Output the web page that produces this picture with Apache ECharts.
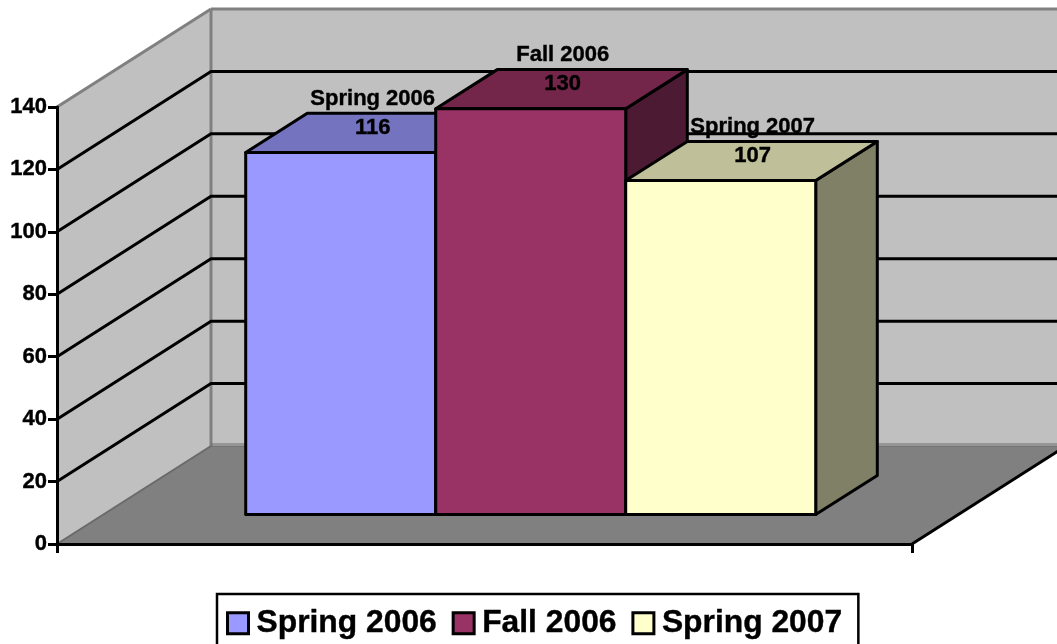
<!DOCTYPE html>
<html>
<head>
<meta charset="utf-8">
<style>html,body{margin:0;padding:0;background:#fff}#c{width:1057px;height:644px}</style>
<script src="https://cdn.jsdelivr.net/npm/echarts@6/dist/echarts.min.js"></script>
</head>
<body>
<div id="c"></div>
<script>
var categories = [''];
var seriesNames = ['Spring 2006', 'Fall 2006', 'Spring 2007'];
var seriesValues = [116, 130, 107];
var frontColors = ['#9999FF', '#993366', '#FFFFCC'];
var topColors = ['#7373BF', '#732649', '#BFBF99'];
var sideColors = ['#4D4D80', '#4D1A33', '#808066'];
var gridValues = [20, 40, 60, 80, 100, 120];

var AXIS_MAX = 140;
var DEPTH = [154, -98];
var FONT = 'Liberation Sans';
var HEAVY = 0.4;

function shift(p, t) { return [p[0] + DEPTH[0] * t, p[1] + DEPTH[1] * t]; }

function renderWalls(params, api) {
  var c = api.coord([0, 0]);
  var w = api.size([1, 0])[0];
  var l = c[0] - w / 2, r = c[0] + w / 2;
  var y0 = c[1], y1 = api.coord([0, AXIS_MAX])[1];
  var bl = [l, y0], br = [r, y0], tl = [l, y1], tr = [r, y1];
  var gray = { stroke: '#808080', lineWidth: 3, fill: null };
  function poly(pts, style) { return { type: 'polygon', shape: { points: pts }, style: style }; }
  function line(a, b, style) { return { type: 'line', shape: { x1: a[0], y1: a[1], x2: b[0], y2: b[1] }, style: style }; }
  return { type: 'group', children: [
    poly([shift(bl, 1), shift(br, 1), shift(tr, 1), shift(tl, 1)], { fill: '#C0C0C0' }),
    poly([bl, shift(bl, 1), shift(tl, 1), tl], { fill: '#C0C0C0' }),
    poly([bl, br, shift(br, 1), shift(bl, 1)], { fill: '#808080' }),
    line(tl, shift(tl, 1), gray),
    line(shift(tl, 1), shift(tr, 1), gray),
    line(shift(tl, 1), shift(bl, 1), gray),
    line(bl, shift(bl, 1), { stroke: '#6a6a6a', lineWidth: 2 }),
    line([shift(bl, 1)[0], shift(bl, 1)[1] - 2], [shift(br, 1)[0], shift(br, 1)[1] - 2], { stroke: '#6a6a6a', lineWidth: 1.2 }),
    line(shift(bl, 1), shift(br, 1), { stroke: '#6a6a6a', lineWidth: 1.2 }),
    line(br, shift(br, 1), { stroke: '#000', lineWidth: 3 })
  ] };
}

function renderGrid(params, api) {
  var c = api.coord([0, api.value(1)]);
  var w = api.size([1, 0])[0];
  var a = [c[0] - w / 2, c[1]], b = shift(a, 1), d = shift([c[0] + w / 2, c[1]], 1);
  return { type: 'polyline', shape: { points: [a, b, d] }, style: { stroke: '#000', lineWidth: 3, fill: null } };
}

function renderBar(index) {
  return function (params, api) {
    var v = api.value(1);
    var c = api.coord([api.value(0), 0]);
    var topY = api.coord([api.value(0), v])[1];
    var bw = api.size([1, 0])[0] / 4.5;
    var left = c[0] + (index - 1.5) * bw;
    var a = shift([left, c[1]], 0.3), b = shift([left + bw, c[1]], 0.3);
    var t1 = shift([left, topY], 0.3), t2 = shift([left + bw, topY], 0.3);
    function back(p) { return shift(p, 0.4); }
    function st(fill) { return { fill: fill, stroke: '#000', lineWidth: 3, lineJoin: 'round' }; }
    var cx = (t1[0] + t2[0]) / 2 + 32;
    var font = 'bold 22px "' + FONT + '"';
    return { type: 'group', children: [
      { type: 'polygon', shape: { points: [t2, b, back(b), back(t2)] }, style: st(sideColors[index]) },
      { type: 'polygon', shape: { points: [t1, t2, back(t2), back(t1)] }, style: st(topColors[index]) },
      { type: 'polygon', shape: { points: [a, b, t2, t1] }, style: st(frontColors[index]) },
      { type: 'text', z2: 50, style: { text: seriesNames[index], x: cx, y: t1[1] - 54, align: 'center', verticalAlign: 'middle', fill: '#000', stroke: '#000', lineWidth: HEAVY, font: font } },
      { type: 'text', z2: 50, style: { text: String(v), x: cx, y: t1[1] - 25, align: 'center', verticalAlign: 'middle', fill: '#000', stroke: '#000', lineWidth: HEAVY, font: font } }
    ] };
  };
}

var series = [
  { type: 'custom', name: 'walls', z: 1, silent: true, clip: false, renderItem: renderWalls, data: [[0, 0]], encode: { x: 0, y: 1 } },
  { type: 'custom', name: 'gridlines', z: 1, silent: true, clip: false, renderItem: renderGrid,
    data: gridValues.map(function (v) { return [0, v]; }), encode: { x: 0, y: 1 } }
];
seriesNames.forEach(function (name, i) {
  series.push({
    type: 'custom', name: name, z: 2 + i, silent: true, clip: false, renderItem: renderBar(i),
    itemStyle: { color: frontColors[i] },
    data: [[0, seriesValues[i]]], encode: { x: 0, y: 1 }
  });
});

var chart = echarts.init(document.getElementById('c'), null, { renderer: 'canvas' });
chart.setOption({
  animation: false,
  backgroundColor: '#fff',
  textStyle: { fontFamily: FONT },
  grid: { left: 57, top: 107, width: 855, height: 437, containLabel: false },
  xAxis: {
    type: 'category', data: categories, z: 8,
    axisLine: { show: true, lineStyle: { color: '#000', width: 3 } },
    axisTick: { show: true, length: 9, lineStyle: { color: '#000', width: 3 } },
    axisLabel: { show: false }, splitLine: { show: false }
  },
  yAxis: {
    type: 'value', min: 0, max: AXIS_MAX, interval: 20, z: 8,
    axisLine: { show: true, onZero: false, lineStyle: { color: '#000', width: 3 } },
    axisTick: { show: true, length: 9, lineStyle: { color: '#000', width: 3 } },
    axisLabel: { color: '#000', fontFamily: FONT, fontWeight: 'bold', fontSize: 22, margin: 10, padding: [7, 0, 0, 0], textBorderColor: '#000', textBorderWidth: HEAVY },
    splitLine: { show: false }
  },
  legend: {
    data: seriesNames, left: 217, top: 594, orient: 'horizontal',
    backgroundColor: '#fff', borderColor: '#000', borderWidth: 2.5,
    padding: [13, 16, 16, 9], itemGap: 14.7, itemWidth: 21, itemHeight: 21, icon: 'rect',
    itemStyle: { borderColor: '#000', borderWidth: 3 },
    selectedMode: false,
    textStyle: { color: '#000', fontFamily: FONT, fontWeight: 'bold', fontSize: 31.8, padding: [0, 0, 0, 3], textBorderColor: '#000', textBorderWidth: HEAVY }
  },
  series: series
});
</script>
</body>
</html>
